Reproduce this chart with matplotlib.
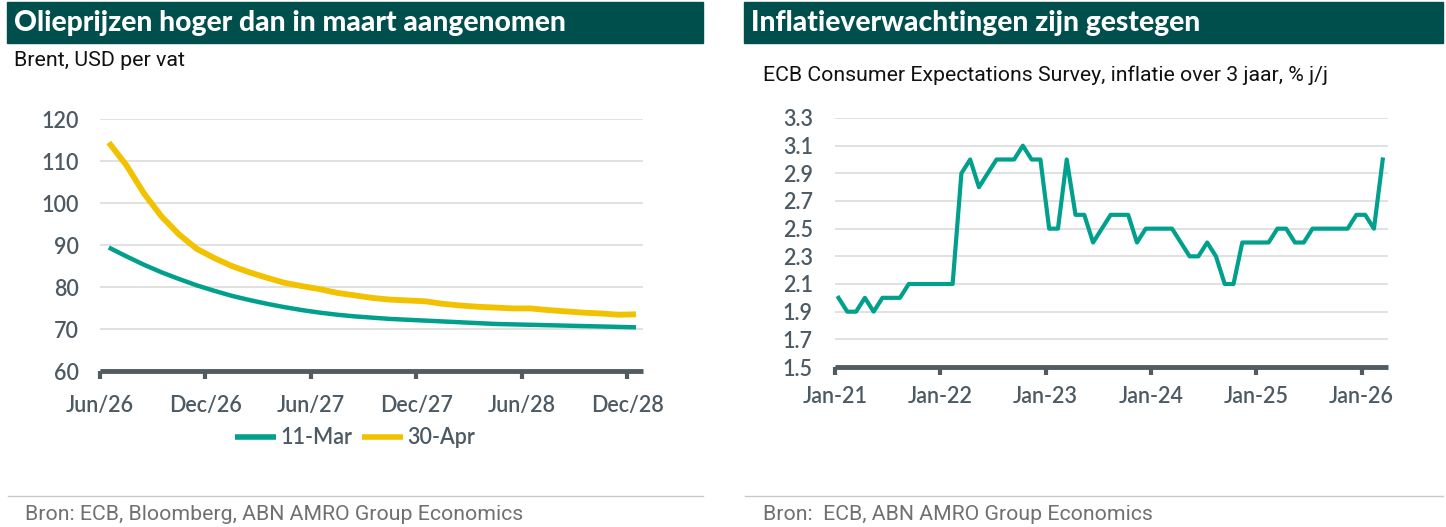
import numpy as np
import matplotlib
matplotlib.use("Agg")
import matplotlib.pyplot as plt
from matplotlib.patches import Rectangle
from matplotlib.lines import Line2D

# oil price curves, monthly, Jun/26 .. Dec/28
oil_months = np.arange(31) + 0.5
oil_11mar = [89.4, 87.3, 85.3, 83.5, 81.9, 80.4, 79.1, 77.9, 76.9, 76.0,
             75.2, 74.5, 73.9, 73.4, 73.0, 72.7, 72.4, 72.2, 72.0, 71.8,
             71.6, 71.4, 71.2, 71.1, 71.0, 70.9, 70.8, 70.7, 70.6, 70.5, 70.4]
oil_30apr = [114.4, 109.0, 102.3, 96.8, 92.5, 89.1, 86.9, 85.0, 83.5, 82.2,
             81.0, 80.2, 79.5, 78.6, 78.0, 77.4, 77.0, 76.8, 76.6, 76.0,
             75.6, 75.3, 75.1, 74.9, 74.9, 74.5, 74.2, 73.9, 73.7, 73.4, 73.5]
oil_ticklabels = ["Jun/26", "Dec/26", "Jun/27", "Dec/27", "Jun/28", "Dec/28"]

# ECB CES 3y ahead inflation expectations, monthly from Jan-21
ces = [2.0, 1.9, 1.9, 2.0, 1.9, 2.0, 2.0, 2.0, 2.1, 2.1, 2.1, 2.1,
       2.1, 2.1, 2.9, 3.0, 2.8, 2.9, 3.0, 3.0, 3.0, 3.1, 3.0, 3.0,
       2.5, 2.5, 3.0, 2.6, 2.6, 2.4, 2.5, 2.6, 2.6, 2.6, 2.4, 2.5,
       2.5, 2.5, 2.5, 2.4, 2.3, 2.3, 2.4, 2.3, 2.1, 2.1, 2.4, 2.4,
       2.4, 2.4, 2.5, 2.5, 2.4, 2.4, 2.5, 2.5, 2.5, 2.5, 2.5, 2.6,
       2.6, 2.5, 3.0]
ces_months = np.arange(len(ces)) + 0.4
ces_ticklabels = ["Jan-21", "Jan-22", "Jan-23", "Jan-24", "Jan-25", "Jan-26"]

TEAL = "#00a08c"
YELLOW = "#f2c200"
BAR = "#004f4d"
TICK = "#4d5a63"
GRID = "#dcdcdc"
FONT = "Lato"
TXT = "Roboto"

W, H = 1446, 527
fig = plt.figure(figsize=(W / 100, H / 100), dpi=100)

def fx(px):
    return px / W

def fy(py):
    return 1 - py / H

# title bars + footer lines
for x0, x1, title in [(7, 703, "Olieprijzen hoger dan in maart aangenomen"),
                      (744, 1443, "Inflatieverwachtingen zijn gestegen")]:
    fig.patches.append(Rectangle((fx(x0), fy(43)), fx(x1 - x0), 41 / H,
                                 transform=fig.transFigure, color=BAR, zorder=0))
    fig.text(fx(x0 + 7), fy(23), title, color="white", fontsize=20.3,
             fontweight="black", family=FONT, va="center")
    fig.add_artist(Line2D([fx(x0 + 1), fx(x1)], [fy(496), fy(496)],
                          color="#c8c8c8", lw=1, transform=fig.transFigure))

fig.text(fx(14), fy(61), "Brent, USD per vat", fontsize=15.4, family=TXT,
         color="#111111", va="center")
fig.text(fx(763), fy(75), "ECB Consumer Expectations Survey, inflatie over 3 jaar, % j/j",
         fontsize=15.3, family=TXT, color="#111111", va="center")
fig.text(fx(25), fy(514), "Bron: ECB, Bloomberg, ABN AMRO Group Economics",
         fontsize=15.3, family=TXT, color="#707070", va="center")
fig.text(fx(763), fy(514), "Bron:  ECB, ABN AMRO Group Economics",
         fontsize=15.3, family=TXT, color="#707070", va="center")


def style(ax):
    for s in ["top", "right", "left"]:
        ax.spines[s].set_visible(False)
    ax.spines["bottom"].set_color("#515b61")
    ax.spines["bottom"].set_linewidth(3.5)
    ax.spines["bottom"].set_capstyle("butt")
    ax.grid(axis="y", color=GRID, lw=1.2)
    ax.set_axisbelow(True)
    ax.tick_params(axis="y", length=0, pad=15, labelsize=15.5, labelcolor=TICK)
    ax.tick_params(axis="x", length=6, width=3, color="#515b61", pad=11,
                   labelsize=15.5, labelcolor=TICK)
    for lab in ax.get_xticklabels() + ax.get_yticklabels():
        lab.set_family(FONT)
        lab.set_fontweight("semibold")


# left: oil
ax1 = fig.add_axes([fx(100), fy(371), fx(643 - 100), (371 - 119) / H])
ax1.plot(oil_months, oil_11mar, color=TEAL, lw=3.2, label="11-Mar", solid_capstyle="butt")
ax1.plot(oil_months, oil_30apr, color=YELLOW, lw=4.2, label="30-Apr", solid_capstyle="butt")
ax1.set_xlim(0, 30.9)
ax1.set_ylim(60, 120)
ax1.set_yticks(np.arange(60, 121, 10))
ax1.set_xticks(np.arange(0, 31, 6))
ax1.set_xticklabels(oil_ticklabels)
style(ax1)

leg = fig.legend(loc="center", bbox_to_anchor=(fx(355), fy(438)), ncol=2, frameon=False,
                 handlelength=1.9, handletextpad=0.2, columnspacing=0.45,
                 prop={"family": FONT, "size": 15.5, "weight": "semibold"})
for t in leg.get_texts():
    t.set_color(TICK)
for h in leg.legend_handles:
    h.set_linewidth(4)

# right: CES
ax2 = fig.add_axes([fx(835), fy(367), fx(1388 - 835), (367 - 118) / H])
ax2.plot(ces_months, ces, color=TEAL, lw=3)
ax2.set_xlim(0, 63)
ax2.set_ylim(1.5, 3.3)
ax2.set_yticks(np.round(np.arange(1.5, 3.31, 0.2), 1))
ax2.set_yticklabels([f"{v:.1f}" for v in np.arange(1.5, 3.31, 0.2)])
ax2.set_xticks(np.arange(0, 61, 12))
ax2.set_xticklabels(ces_ticklabels)
style(ax2)
ax2.tick_params(axis="y", pad=16)
ax2.tick_params(axis="x", pad=8)

fig.savefig("out.png", dpi=100)
